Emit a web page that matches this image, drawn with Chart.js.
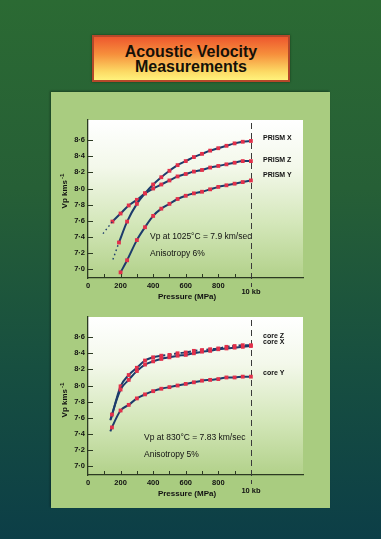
<!DOCTYPE html>
<html><head><meta charset="utf-8">
<script src="https://cdn.jsdelivr.net/npm/chart.js@4"></script>
<style>
html,body{margin:0;padding:0;}
body{width:381px;height:539px;overflow:hidden;position:relative;
 background:linear-gradient(to bottom,#2b6a33 0%,#265f36 35%,#174f40 68%,#0c3e47 100%);
 font-family:"Liberation Sans",Arial,sans-serif;}
#title{position:absolute;left:92px;top:35px;width:194px;height:43px;border:2px solid #b5482a;
 background:linear-gradient(to bottom,#ee582e 0%,#f68f3c 40%,#fcd964 80%,#fff27c 100%);
 text-align:center;font-weight:bold;font-size:16px;line-height:15px;color:#151008;box-shadow:0 0 2px #143818;}
#title .l1{margin-top:7px;}
#panel{position:absolute;left:51px;top:92px;width:279px;height:416px;background:#a9cc80;
 box-shadow:-1px -1px 2px rgba(0,0,0,0.35);}
canvas{position:absolute;}
</style></head>
<body>
<div id="title"><div class="l1">Acoustic Velocity</div><div>Measurements</div></div>
<div id="panel"></div>
<canvas id="c1" width="279" height="197" style="left:51px;top:110px"></canvas>
<canvas id="c2" width="279" height="200" style="left:51px;top:307px"></canvas>
<script>
// ---------- data ----------
const xTickValues = [0, 200, 400, 600, 800];
const xMinorTicks = [100, 200, 300, 400, 500, 600, 700, 800, 900];
const yTickValues = [7.0, 7.2, 7.4, 7.6, 7.8, 8.0, 8.2, 8.4, 8.6];
const markerPressure = 1000; // 10 kb

// Upper chart: 1025 °C
const prismXPressure = [190, 240, 300, 350, 400, 450, 500, 550, 600, 650, 700, 750, 800, 850, 900, 950, 1000];
const prismXVp       = [7.33, 7.59, 7.81, 7.94, 8.05, 8.14, 8.22, 8.29, 8.34, 8.39, 8.43, 8.47, 8.50, 8.53, 8.56, 8.58, 8.59];
const prismXExtPressure = [153, 190];
const prismXExtVp       = [7.12, 7.33];

const prismZPressure = [150, 200, 250, 300, 350, 400, 450, 500, 550, 600, 650, 700, 750, 800, 850, 900, 950, 1000];
const prismZVp       = [7.59, 7.69, 7.79, 7.86, 7.94, 8.00, 8.05, 8.10, 8.15, 8.18, 8.21, 8.23, 8.26, 8.28, 8.30, 8.32, 8.34, 8.34];
const prismZExtPressure = [92, 150];
const prismZExtVp       = [7.44, 7.59];

const prismYPressure = [200, 240, 300, 350, 400, 450, 500, 550, 600, 650, 700, 750, 800, 850, 900, 950, 1000];
const prismYVp       = [6.96, 7.11, 7.36, 7.52, 7.66, 7.75, 7.81, 7.87, 7.91, 7.94, 7.96, 7.99, 8.02, 8.04, 8.06, 8.08, 8.10];

// Lower chart: 830 °C
const coreZPressure = [200, 250, 300, 350, 400, 450, 500, 550, 600, 650, 700, 750, 800, 850, 900, 950, 1000];
const coreZVp       = [7.99, 8.13, 8.22, 8.31, 8.35, 8.37, 8.38, 8.40, 8.41, 8.43, 8.44, 8.45, 8.46, 8.48, 8.49, 8.50, 8.50];
const coreZStart    = [140, 7.58];

const coreXPressure = [147, 200, 250, 300, 350, 400, 450, 500, 550, 600, 650, 700, 750, 800, 850, 900, 950, 1000];
const coreXVp       = [7.64, 7.95, 8.07, 8.18, 8.26, 8.30, 8.33, 8.35, 8.37, 8.38, 8.40, 8.42, 8.43, 8.45, 8.46, 8.47, 8.48, 8.49];
const coreXStart    = [137, 7.57];

const coreYPressure = [147, 200, 250, 300, 350, 400, 450, 500, 550, 600, 650, 700, 750, 800, 850, 900, 950, 1000];
const coreYVp       = [7.48, 7.69, 7.76, 7.84, 7.89, 7.93, 7.96, 7.98, 8.00, 8.02, 8.04, 8.06, 8.07, 8.08, 8.10, 8.10, 8.11, 8.11];
const coreYStart    = [137, 7.43];

// ---------- styling ----------
const FONT = '"Liberation Sans", Arial, sans-serif';
const lineColor = '#1c3b6b';
const markColor = '#e2304a';
const axisColor = '#2c3a22';

function pts(xs, ys, start) {
  const p = xs.map((x, i) => ({x: x, y: ys[i]}));
  if (start) p.unshift({x: start[0], y: start[1]});
  return p;
}
function curve(xs, ys, start, extra) {
  return Object.assign({
    data: pts(xs, ys, start),
    borderColor: lineColor, borderWidth: 2,
    cubicInterpolationMode: 'monotone',
    pointStyle: 'rect',
    pointRadius: c => (start && c.dataIndex === 0) ? 0 : 2.7,
    pointBackgroundColor: markColor, pointBorderColor: markColor, pointBorderWidth: 0
  }, extra || {});
}
function dotted(xs, ys) {
  return {
    data: pts(xs, ys), borderColor: lineColor, borderWidth: 1.4,
    borderDash: [1.5, 3], pointRadius: 0, cubicInterpolationMode: 'monotone'
  };
}

const decor = {
  id: 'decor',
  beforeDraw(chart) {
    const {ctx, chartArea: a} = chart;
    const g = ctx.createLinearGradient(0, a.top, 0, a.bottom);
    g.addColorStop(0, '#ffffff');
    g.addColorStop(0.3, '#f3f8ea');
    g.addColorStop(0.65, '#d4e7ba');
    g.addColorStop(1, '#b2d18a');
    ctx.save(); ctx.fillStyle = g;
    ctx.fillRect(a.left, a.top, a.right - a.left, a.bottom - a.top);
    ctx.restore();
  },
  beforeDatasetsDraw(chart) {
    const {ctx, chartArea: a, scales} = chart;
    const x = Math.round(scales.x.getPixelForValue(markerPressure)) + 0.5;
    ctx.save();
    ctx.strokeStyle = '#3a3a3a'; ctx.lineWidth = 1; ctx.setLineDash([6, 4]);
    ctx.beginPath(); ctx.moveTo(x, a.top + 3); ctx.lineTo(x, a.bottom + 9); ctx.stroke();
    ctx.restore();
  },
  afterDraw(chart, args, o) {
    const {ctx, chartArea: a, scales} = chart;
    ctx.save();
    ctx.strokeStyle = axisColor; ctx.lineWidth = 1;
    xMinorTicks.forEach(v => {
      const x = Math.round(scales.x.getPixelForValue(v)) + 0.5;
      ctx.beginPath(); ctx.moveTo(x, a.bottom); ctx.lineTo(x, a.bottom - 4); ctx.stroke();
    });
    yTickValues.forEach(v => {
      const y = Math.round(scales.y.getPixelForValue(v)) + 0.5;
      ctx.beginPath(); ctx.moveTo(a.left, y); ctx.lineTo(a.left + 5, y); ctx.stroke();
    });
    ctx.fillStyle = '#111';
    ctx.textBaseline = 'middle';
    (o.texts || []).forEach(t => {
      ctx.font = t.font + ' ' + FONT;
      ctx.textAlign = t.align || 'left';
      if (t.rot) {
        ctx.save();
        ctx.translate(a.left + t.x, a.top + t.y);
        ctx.rotate(-Math.PI / 2);
        ctx.textAlign = 'left';
        const w = ctx.measureText(t.t).width;
        ctx.font = t.supFont + ' ' + FONT;
        const ws = ctx.measureText(t.sup).width;
        const start = -(w + ws + 1) / 2;
        ctx.font = t.font + ' ' + FONT;
        ctx.fillText(t.t, start, 0);
        ctx.font = t.supFont + ' ' + FONT;
        ctx.fillText(t.sup, start + w + 1, -3);
        ctx.restore();
      } else {
        ctx.fillText(t.t, a.left + t.x, a.top + t.y);
      }
    });
    ctx.restore();
  }
};

function makeChart(id, datasets, texts, xAxisH) {
  return new Chart(document.getElementById(id), {
    type: 'line',
    data: {datasets: datasets},
    options: {
      responsive: false, animation: false, events: [],
      layout: {padding: {left: 0, right: 27, top: 10, bottom: 0}},
      plugins: {legend: {display: false}, tooltip: {enabled: false}, decor: {texts: texts}},
      scales: {
        x: {
          type: 'linear', min: 0, max: 1320,
          afterFit: s => { s.height = xAxisH; },
          afterBuildTicks: s => { s.ticks = xTickValues.map(v => ({value: v})); },
          grid: {display: true, drawOnChartArea: false, drawTicks: false},
          border: {display: true, color: axisColor, width: 1.3},
          ticks: {padding: 3, autoSkip: false, maxRotation: 0, color: '#111',
                  font: {family: FONT, size: 7.5, weight: 'bold'}}
        },
        y: {
          type: 'linear', min: 6.89, max: 8.85,
          afterFit: s => { s.width = 37; },
          afterBuildTicks: s => { s.ticks = yTickValues.map(v => ({value: v})); },
          grid: {display: true, drawOnChartArea: false, drawTicks: false},
          border: {display: true, color: axisColor, width: 1.3},
          ticks: {padding: 3, color: '#111', callback: v => Number(v).toFixed(1).replace('.', '\u00B7'),
                  font: {family: FONT, size: 7.5, weight: 'bold'}}
        }
      }
    },
    plugins: [decor]
  });
}

makeChart('c1', [
  dotted(prismXExtPressure, prismXExtVp),
  dotted(prismZExtPressure, prismZExtVp),
  curve(prismXPressure, prismXVp),
  curve(prismZPressure, prismZVp),
  curve(prismYPressure, prismYVp)
], [
  {t: 'PRISM X', x: 175, y: 18, font: 'bold 7px'},
  {t: 'PRISM Z', x: 175, y: 40, font: 'bold 7px'},
  {t: 'PRISM Y', x: 175, y: 55, font: 'bold 7px'},
  {t: 'Vp at 1025\u00B0C = 7.9 km/sec', x: 62, y: 117, font: '8.5px'},
  {t: 'Anisotropy 6%', x: 62, y: 134, font: '8.5px'},
  {t: '10 kb', x: 163, y: 172, font: 'bold 7.5px', align: 'center'},
  {t: 'Pressure (MPa)', x: 99, y: 177, font: 'bold 8px', align: 'center'},
  {t: 'Vp kms', sup: '-1', rot: true, x: -23, y: 71, font: 'bold 8px', supFont: 'bold 6px'}
], 29);

makeChart('c2', [
  curve(coreXPressure, coreXVp, coreXStart),
  curve(coreZPressure, coreZVp, coreZStart, {
    segment: {borderDash: c => c.p0.parsed.x >= 450 ? [4, 2.5] : undefined}
  }),
  curve(coreYPressure, coreYVp, coreYStart)
], [
  {t: 'core Z', x: 175, y: 19.5, font: 'bold 7px'},
  {t: 'core X', x: 175, y: 25.5, font: 'bold 7px'},
  {t: 'core Y', x: 175, y: 56.5, font: 'bold 7px'},
  {t: 'Vp at 830\u00B0C = 7.83 km/sec', x: 56, y: 121, font: '8.5px'},
  {t: 'Anisotropy 5%', x: 56, y: 138, font: '8.5px'},
  {t: '10 kb', x: 163, y: 173.7, font: 'bold 7.5px', align: 'center'},
  {t: 'Pressure (MPa)', x: 99, y: 177, font: 'bold 8px', align: 'center'},
  {t: 'Vp kms', sup: '-1', rot: true, x: -23, y: 83, font: 'bold 8px', supFont: 'bold 6px'}
], 32);
</script>
</body></html>
